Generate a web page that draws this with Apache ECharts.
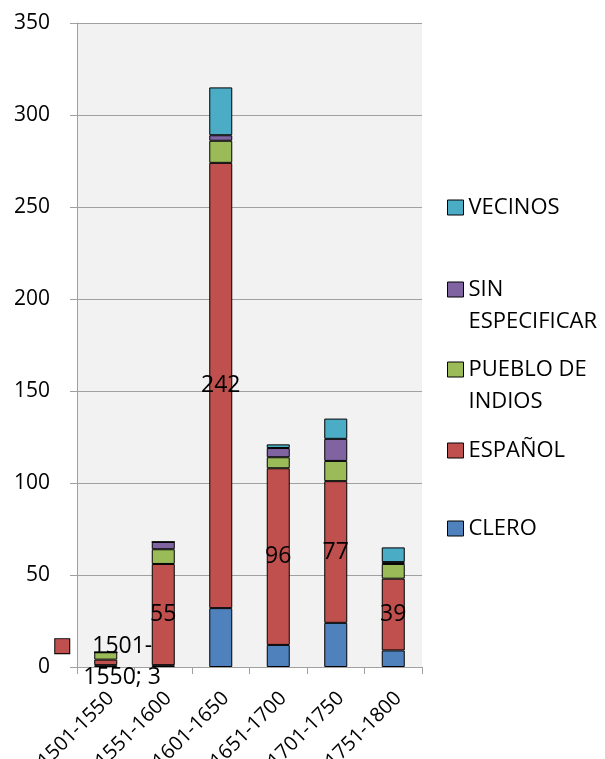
<!DOCTYPE html>
<html>
<head>
<meta charset="utf-8">
<script src="https://cdn.jsdelivr.net/npm/echarts@6/dist/echarts.min.js"></script>
<style>
html,body{margin:0;padding:0;background:#fff;}
#c{width:605px;height:759px;}
</style>
</head>
<body>
<div id="c"></div>
<script>
var categories = ['1501-1550','1551-1600','1601-1650','1651-1700','1701-1750','1751-1800'];
var clero = [1, 1, 32, 12, 24, 9];
var espanol = [3, 55, 242, 96, 77, 39];
var pueblo = [4, 8, 12, 6, 11, 8];
var sinEspecificar = [0, 4, 3, 5, 12, 1];
var vecinos = [0, 0, 26, 2, 11, 8];
var yTicks = [0, 50, 100, 150, 200, 250, 300, 350];

var FONT = 'Open Sans';
var colors = {
  'CLERO': '#4F81BD',
  'ESPAÑOL': '#C0504D',
  'PUEBLO DE INDIOS': '#9BBB59',
  'SIN ESPECIFICAR': '#8064A2',
  'VECINOS': '#4BACC6'
};

var chart = echarts.init(document.getElementById('c'), null, {renderer: 'canvas'});

function mkSeries(name, arr, extra) {
  var s = {
    name: name,
    type: 'bar',
    stack: 'total',
    barWidth: 23,
    data: arr.slice(),
    itemStyle: {color: colors[name], borderColor: '#000', borderWidth: 1},
    emphasis: {disabled: true}
  };
  if (extra) Object.assign(s, extra);
  return s;
}

var espData = espanol.map(function (v, i) {
  if (i === 0) {
    return {
      value: v,
      label: {
        show: true,
        position: [-39, -29],
        align: 'left',
        verticalAlign: 'top',
        formatter: '{sq|}{gap|}' + categories[0].split('-')[0] + '-' + '\n{pad|}' + categories[0].split('-')[1] + '; ' + v,
        fontSize: 23,
        lineHeight: 31,
        rich: {
          sq: {width: 14, height: 14, backgroundColor: '#C0504D', borderColor: '#000', borderWidth: 1},
          gap: {width: 23},
          pad: {width: 28}
        }
      }
    };
  }
  return v;
});

var legendLayout = [
  {name: 'VECINOS', top: 191.5, text: 'VECINOS'},
  {name: 'SIN ESPECIFICAR', top: 241.5, text: '\nSIN\nESPECIFICAR'},
  {name: 'PUEBLO DE INDIOS', top: 321.5, text: '\nPUEBLO DE\nINDIOS'},
  {name: 'ESPAÑOL', top: 434.5, text: 'ESPAÑOL'},
  {name: 'CLERO', top: 512.5, text: 'CLERO'}
];

var legends = legendLayout.map(function (l) {
  return {
    data: [l.name],
    left: 447,
    top: l.top,
    padding: 0,
    orient: 'vertical',
    itemWidth: 16,
    itemHeight: 15,
    icon: 'rect',
    selectedMode: false,
    itemStyle: {borderColor: '#000', borderWidth: 1},
    formatter: function () { return l.text; },
    textStyle: {fontFamily: FONT, fontSize: 22, color: '#000', lineHeight: 32}
  };
});

var option = {
  animation: false,
  backgroundColor: '#fff',
  textStyle: {fontFamily: FONT},
  grid: {left: 77, right: 183, top: 23, bottom: 92, containLabel: false, outerBoundsMode: 'none', show: true, backgroundColor: '#F2F2F2', borderWidth: 0},
  legend: legends,
  xAxis: {
    type: 'category',
    data: categories,
    axisLine: {show: true, lineStyle: {color: '#A0A0A0', width: 1}},
    axisTick: {show: true, length: 7, lineStyle: {color: '#A0A0A0'}},
    axisLabel: {rotate: 45, fontFamily: FONT, fontSize: 20, color: '#000', margin: 19, interval: 0, align: 'right', verticalAlign: 'top', padding: [0, 3, 0, 0]}
  },
  yAxis: {
    type: 'value',
    min: yTicks[0],
    max: yTicks[yTicks.length - 1],
    interval: 50,
    axisLine: {show: true, lineStyle: {color: '#A0A0A0', width: 1}},
    axisTick: {show: true, length: 7, inside: false, lineStyle: {color: '#A0A0A0'}},
    splitLine: {show: true, lineStyle: {color: '#A0A0A0', width: 1}},
    axisLabel: {fontFamily: FONT, fontSize: 21, color: '#000', margin: 27}
  },
  series: [
    mkSeries('CLERO', clero),
    mkSeries('ESPAÑOL', espData, {
      label: {show: true, position: 'inside', fontFamily: FONT, fontSize: 23, color: '#000'}
    }),
    mkSeries('PUEBLO DE INDIOS', pueblo),
    mkSeries('SIN ESPECIFICAR', sinEspecificar),
    mkSeries('VECINOS', vecinos)
  ]
};
chart.setOption(option);
</script>
</body>
</html>
